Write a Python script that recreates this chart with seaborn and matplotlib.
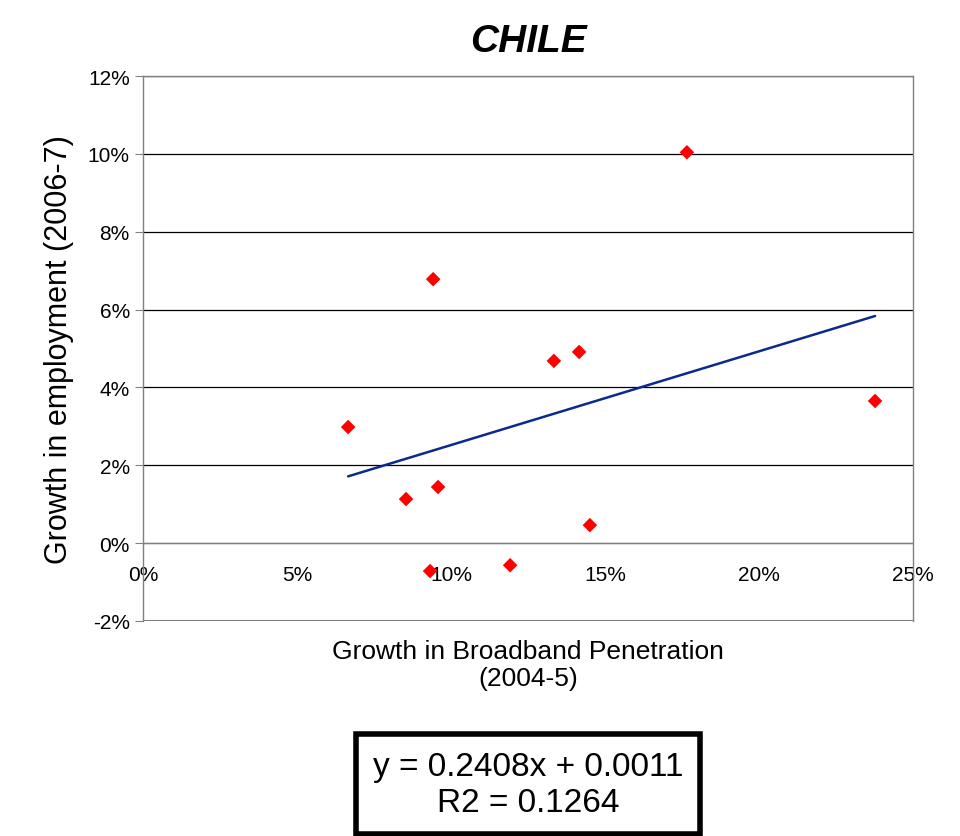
import matplotlib
matplotlib.use("Agg")
import matplotlib.pyplot as plt
import seaborn as sns
import numpy as np
import pandas as pd

bb_growth = [6.66, 8.54, 9.42, 9.58, 9.32, 11.92, 13.34, 14.16, 14.51, 17.66, 23.77]
emp_growth = [2.98, 1.13, 6.78, 1.44, -0.72, -0.57, 4.68, 4.91, 0.46, 10.04, 3.65]
slope, intercept = 0.2408, 0.0011
x_ticks = [0, 5, 10, 15, 20, 25]
y_ticks = [-2, 0, 2, 4, 6, 8, 10, 12]

sns.set_style("white")
plt.rcParams['font.family'] = ['Liberation Sans', 'DejaVu Sans']
plt.rcParams['text.color'] = 'black'
plt.rcParams['axes.labelcolor'] = 'black'
plt.rcParams['xtick.color'] = 'black'
plt.rcParams['ytick.color'] = 'black'
df = pd.DataFrame({"x": bb_growth, "y": emp_growth})

fig = plt.figure(figsize=(9.6, 8.37), dpi=100)
ax = fig.add_axes([0.149, 0.257, 0.802, 0.651])
for t in y_ticks[1:]:
    ax.axhline(t, color="black", lw=0.9, zorder=0)
ax.axhline(-2, color="#808080", lw=1.5, zorder=0)
sns.scatterplot(data=df, x="x", y="y", marker="D", color="#ff0000", s=55, edgecolor="none", ax=ax, zorder=3)
xs = np.array([min(bb_growth), max(bb_growth)])
ax.plot(xs, (slope * xs / 100 + intercept) * 100, color="#0a2a8c", lw=1.8, zorder=2)
ax.set_xlim(0, 25)
ax.set_ylim(-2, 12)
ax.set_xticks(x_ticks)
ax.set_xticklabels([f"{t}%" for t in x_ticks])
ax.set_yticks(y_ticks)
ax.set_yticklabels([f"{t}%" for t in y_ticks])
for s in ["left", "right", "top"]:
    ax.spines[s].set_color("#808080")
    ax.spines[s].set_linewidth(1)
ax.spines["bottom"].set_position(("data", 0))
ax.spines["bottom"].set_color("#808080")
ax.tick_params(axis="x", direction="inout", length=8, color="#808080", pad=12, labelsize=15, labelcolor="black")
ax.tick_params(axis="y", direction="out", length=6, color="#808080", left=True, labelsize=15, labelcolor="black")
ax.set_xlabel("")
ax.set_ylabel("Growth in employment (2006-7)", fontsize=22, labelpad=10)
ax.set_title("CHILE", fontsize=28, fontweight="bold", style="italic", pad=18)
fig.text(0.55, 0.205, "Growth in Broadband Penetration\n(2004-5)", ha="center", va="center", fontsize=19)
fig.text(0.55, 0.062, "y = 0.2408x + 0.0011\nR2 = 0.1264", ha="center", va="center", fontsize=24,
         bbox=dict(boxstyle="square,pad=0.5", facecolor="white", edgecolor="black", linewidth=4))
fig.savefig("out.png", dpi=100)
